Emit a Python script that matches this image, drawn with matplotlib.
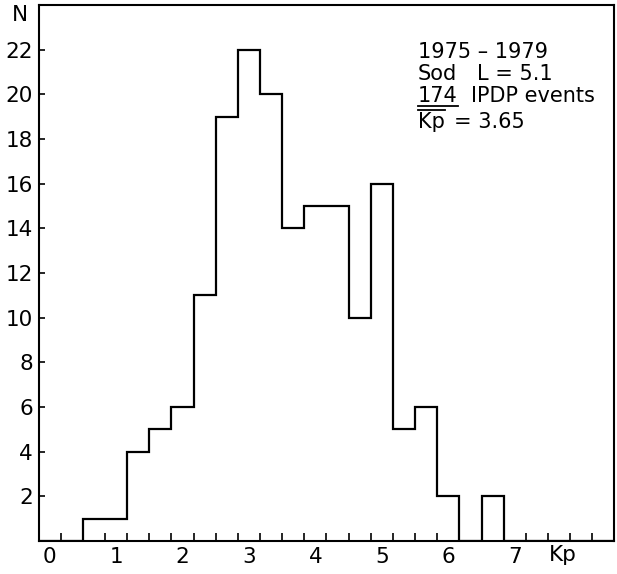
import matplotlib.pyplot as plt
import numpy as np
from matplotlib.lines import Line2D
from matplotlib.transforms import blended_transform_factory

# IPDP event counts per Kp class (0o, 0+, 1-, 1o, 1+, 2-, ... 8+)
counts = [0, 0, 1, 1, 4, 5, 6, 11, 19, 22, 20, 14, 15, 15, 10, 16, 5, 6, 2, 0, 2, 0, 0, 0, 0, 0]
kp_labels = ["0", "1", "2", "3", "4", "5", "6", "7"]
y_ticks = [2, 4, 6, 8, 10, 12, 14, 16, 18, 20, 22]

bin_width = 1 / 3
edges = np.arange(len(counts) + 1) * bin_width - bin_width / 2

plt.rcParams['font.family'] = 'DejaVu Sans'

fig = plt.figure(figsize=(6.17, 5.74), dpi=100)
ax = fig.add_axes([0.0624, 0.0575, 0.9335, 0.9338])

ax.stairs(counts, edges, color='black', lw=1.6, baseline=0)
ax.set_xlim(edges[0], edges[-1])
ax.set_ylim(0, 24)

ax.set_xticks(range(len(kp_labels)))
ax.set_xticklabels(kp_labels)
ax.set_xticks(edges[1:-1], minor=True)
ax.tick_params(axis='x', which='major', length=0, pad=4.5, labelsize=15.5)
ax.tick_params(axis='x', which='minor', direction='in', length=6, width=1.2)
ax.set_yticks(y_ticks)
ax.tick_params(axis='y', direction='in', length=4.5, width=1.2, pad=4, labelsize=15.5)
for s in ax.spines.values():
    s.set_linewidth(1.5)

# axis labels
ax.text(-0.033, 23.55, "N", transform=blended_transform_factory(ax.transAxes, ax.transData),
        ha='center', va='center', fontsize=15.5)
ax.text(7.72, -0.026, "Kp", transform=blended_transform_factory(ax.transData, ax.transAxes),
        ha='center', va='center', fontsize=15.5)

# info block
fs = 15
x0 = 5.545
ax.text(x0, 21.61, "1975 – 1979", fontsize=fs, va='baseline')
ax.text(x0, 20.64, "Sod", fontsize=fs, va='baseline')
ax.text(6.43, 20.64, "L = 5.1", fontsize=fs, va='baseline')
t174 = ax.text(x0, 19.65, "174", fontsize=fs, va='baseline')
ax.text(6.34, 19.65, "IPDP events", fontsize=fs, va='baseline')
tkp = ax.text(x0, 18.49, "Kp", fontsize=fs, va='baseline')
ax.text(6.09, 18.49, "= 3.65", fontsize=fs, va='baseline')

# underline "174" and overline "Kp"
fig.canvas.draw()
inv = ax.transData.inverted()
for t, y in [(t174, 19.47), (tkp, 19.32)]:
    bb = t.get_window_extent()
    xa = inv.transform((bb.x0, 0))[0]
    xb = inv.transform((bb.x1, 0))[0]
    ax.add_line(Line2D([xa, xb], [y, y], color='black', lw=1.3))

fig.savefig("out.png", dpi=100)
